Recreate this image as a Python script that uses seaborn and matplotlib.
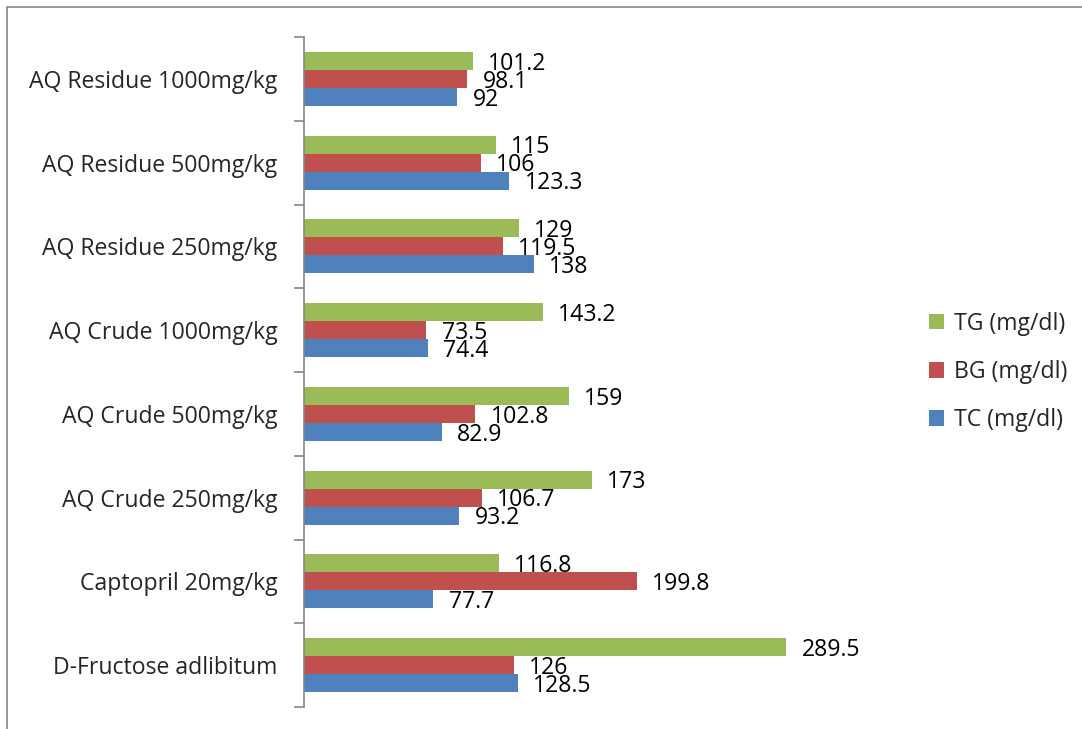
import matplotlib
matplotlib.use("Agg")
import matplotlib.pyplot as plt
import seaborn as sns
import pandas as pd
from matplotlib.patches import Rectangle

categories = [
    "AQ Residue 1000mg/kg",
    "AQ Residue 500mg/kg",
    "AQ Residue 250mg/kg",
    "AQ Crude 1000mg/kg",
    "AQ Crude 500mg/kg",
    "AQ Crude 250mg/kg",
    "Captopril 20mg/kg",
    "D-Fructose adlibitum",
]
tg = [101.2, 115, 129, 143.2, 159, 173, 116.8, 289.5]
bg = [98.1, 106, 119.5, 73.5, 102.8, 106.7, 199.8, 126]
tc = [92, 123.3, 138, 74.4, 82.9, 93.2, 77.7, 128.5]
series = ["TG (mg/dl)", "BG (mg/dl)", "TC (mg/dl)"]
colors = ["#9BBB59", "#C0504D", "#4F81BD"]

df = pd.DataFrame({
    "group": categories * 3,
    "series": [series[0]] * 8 + [series[1]] * 8 + [series[2]] * 8,
    "value": tg + bg + tc,
})

sns.set_theme(style="white")
plt.rcParams["font.family"] = ["Open Sans", "DejaVu Sans"]
FS = 16.6

W, H = 1082, 729
fig = plt.figure(figsize=(W / 100, H / 100), dpi=100)
ax = fig.add_axes([304 / W, 1 - 707 / H, (887 - 304) / W, (707 - 37) / H])

sns.barplot(data=df, y="group", x="value", hue="series", order=categories,
            hue_order=series, palette=colors, orient="h", width=0.645,
            saturation=1, ax=ax, legend=True, linewidth=0)

for cont in ax.containers:
    for t in ax.bar_label(cont, fmt="{:g}", padding=11, fontsize=FS, color="black"):
        # nudge each value label slightly below its bar's centre line
        t.xyann = (11, -2)

ax.set_xlim(0, 350)
ax.set_ylim(7.5, -0.5)
ax.set_xlabel("")
ax.set_ylabel("")
ax.set_xticks([])
for s in ["top", "right", "bottom"]:
    ax.spines[s].set_visible(False)
ax.spines["left"].set_color("#868686")
ax.spines["left"].set_linewidth(1.2)

ax.set_yticks(range(len(categories)))
ax.set_yticklabels(categories, fontsize=FS)
ax.tick_params(axis="y", which="major", length=0, pad=19)
ax.set_yticks([i - 0.5 for i in range(len(categories) + 1)], minor=True)
ax.tick_params(axis="y", which="minor", length=7, width=1.2, color="#868686", left=True)

handles, labels = ax.get_legend_handles_labels()
ax.legend(handles, labels, loc="center left", bbox_to_anchor=(929 / W, 1 - 372 / H),
          bbox_transform=fig.transFigure, frameon=False, fontsize=FS,
          borderaxespad=0, borderpad=0,
          handlelength=0.65, handleheight=0.65, handletextpad=0.45, labelspacing=1.05)

# outer chart border (runs off the right and bottom edges)
fig.patches.append(Rectangle((7 / W, -0.02), 1.0, 1 - 7 / H + 0.02,
                             transform=fig.transFigure, fill=False,
                             edgecolor="#868686", linewidth=1.2, zorder=0))

fig.savefig("out.png", dpi=100)
